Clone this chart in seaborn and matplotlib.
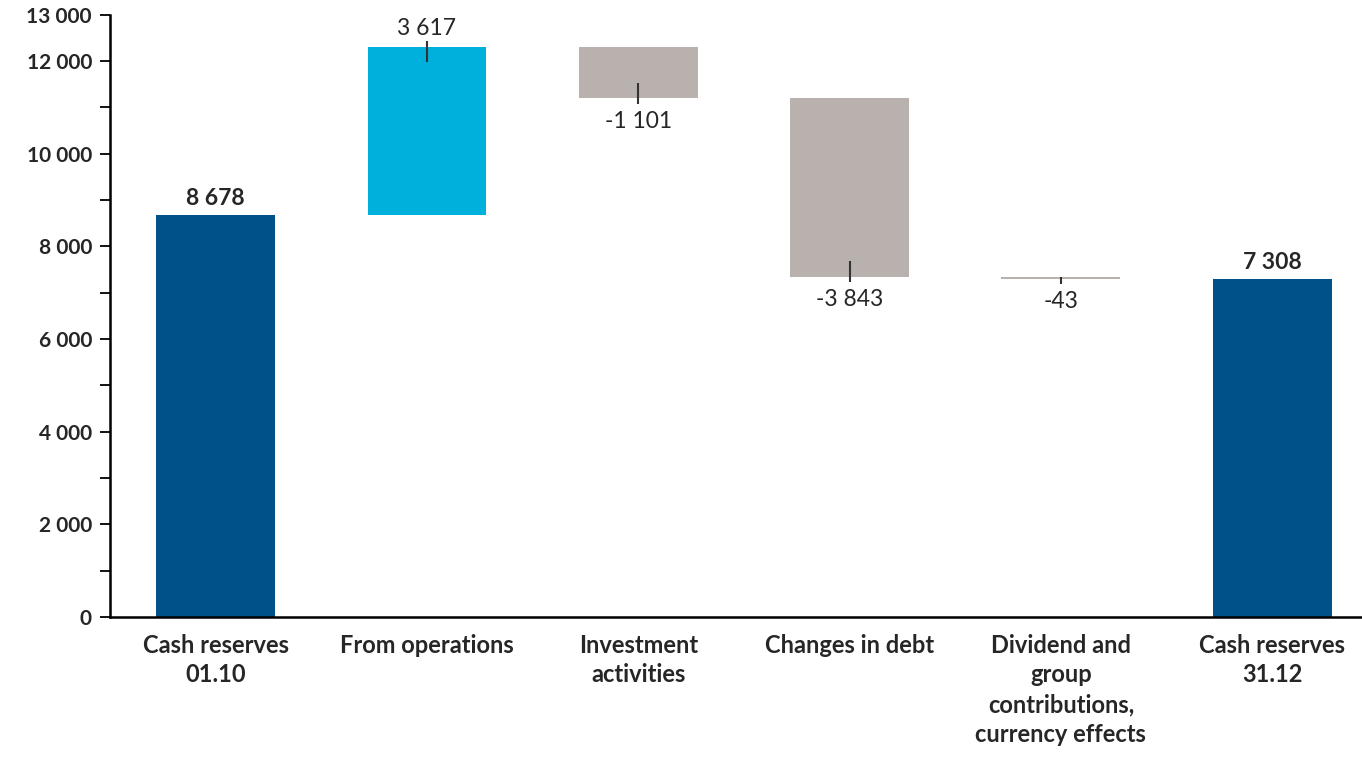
import matplotlib
matplotlib.use("Agg")
import matplotlib.pyplot as plt
from matplotlib.ticker import MultipleLocator, FuncFormatter
import seaborn as sns
import numpy as np

# data
categories = ["Cash reserves\n01.10", "From operations", "Investment\nactivities",
              "Changes in debt", "Dividend and\ngroup\ncontributions,\ncurrency effects",
              "Cash reserves\n31.12"]
changes = [8678, 3617, -1101, -3843, -43, 7308]
is_total = [True, False, False, False, False, True]

dark_blue = "#00518A"
light_blue = "#00B0DC"
grey = "#B9B1AE"

# waterfall bottoms / heights
bottoms, heights = [], []
running = 0
for v, tot in zip(changes, is_total):
    if tot:
        bottoms.append(0)
        heights.append(v)
        running = v
    else:
        start = running
        running = running + v
        bottoms.append(min(start, running))
        heights.append(abs(v))
bottoms = np.array(bottoms)
heights = np.array(heights)
colors = [dark_blue if t else (light_blue if v > 0 else grey) for v, t in zip(changes, is_total)]

sns.set_style("ticks")
plt.rcParams["font.family"] = ["Lato", "DejaVu Sans"]

fig = plt.figure(figsize=(13.62, 7.57), dpi=100)
ax = fig.add_axes([0.0808, 0.1849, 0.9192, 0.7955])

sns.barplot(x=categories, y=heights, bottom=bottoms, width=0.563, ax=ax,
            color=dark_blue, saturation=1)
for p, c in zip(ax.patches, colors):
    p.set_facecolor(c)
    p.set_edgecolor("none")

ax.set_xlim(-0.5, 5.425)
ax.set_ylim(0, 13000)
ax.set_yticks([0, 2000, 4000, 6000, 8000, 10000, 12000, 13000])
ax.yaxis.set_minor_locator(MultipleLocator(1000))
ax.yaxis.set_major_formatter(FuncFormatter(lambda v, p: f"{int(v):,}".replace(",", " ")))
ax.tick_params(axis="y", which="both", length=7, width=1.3, color="black",
               labelsize=15, pad=6)
ax.tick_params(axis="x", length=0, labelsize=17, pad=12)
for lab in ax.get_yticklabels() + ax.get_xticklabels():
    lab.set_fontweight("bold")
for lab in ax.get_xticklabels():
    lab.set_linespacing(1.35)

sns.despine(ax=ax)
for s in ["left", "bottom"]:
    ax.spines[s].set_color("black")
    ax.spines[s].set_linewidth(1.8)

def fmt(v):
    s = f"{abs(v):,}".replace(",", " ")
    return ("-" if v < 0 else "") + s

for i, (v, tot) in enumerate(zip(changes, is_total)):
    top = bottoms[i] + heights[i]
    if tot:
        ax.annotate(fmt(v), (i, top), xytext=(0, 4), textcoords="offset points",
                    ha="center", va="bottom", fontsize=16.5, fontweight="bold")
    elif v > 0:
        ax.vlines(i, top - min(320, heights[i]), top + 130, color="#333333", lw=1.5)
        ax.annotate(fmt(v), (i, top), xytext=(0, 6), textcoords="offset points",
                    ha="center", va="bottom", fontsize=16.5)
    else:
        end = bottoms[i]
        ax.vlines(i, end - 110, end + min(340, heights[i]), color="#333333", lw=1.5)
        ax.annotate(fmt(v), (i, end), xytext=(0, -9), textcoords="offset points",
                    ha="center", va="top", fontsize=16.5)

fig.savefig("out.png", dpi=100)
